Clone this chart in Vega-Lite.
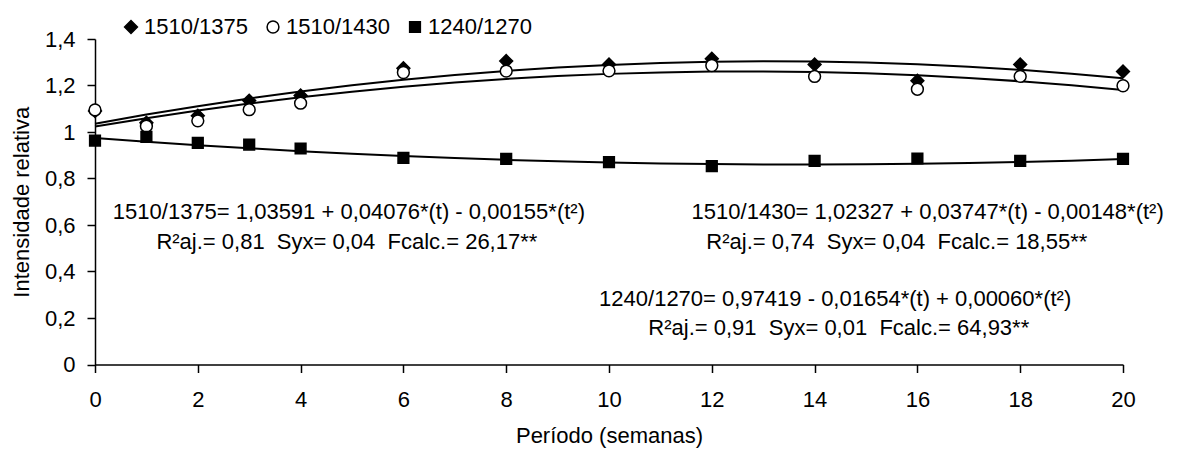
{
  "$schema": "https://vega.github.io/schema/vega-lite/v6.json",
  "width": 1028,
  "height": 325.5,
  "autosize": {"type": "none"},
  "padding": {"left": 95, "top": 39, "right": 54, "bottom": 85.5},
  "background": "white",
  "config": {
    "view": {"stroke": null},
    "font": "Liberation Sans",
    "axis": {
      "domainColor": "black", "tickColor": "black", "domainWidth": 1.5, "tickWidth": 1.5, "tickSize": 8,
      "labelFont": "Liberation Sans", "labelFontSize": 22, "labelColor": "black",
      "titleFont": "Liberation Sans", "titleFontSize": 22, "titleFontWeight": "normal", "titleColor": "black",
      "grid": false, "labelFlush": false, "labelOverlap": false
    },
    "legend": {
      "labelFontSize": 22, "labelFont": "Liberation Sans", "labelColor": "black", "symbolSize": 75,
      "labelOffset": 2, "columnPadding": 14, "symbolStrokeColor": "black", "symbolStrokeWidth": 1.5,
      "padding": 0, "symbolOpacity": 1
    },
    "text": {"font": "Liberation Sans", "fontSize": 22, "color": "black"}
  },
  "datasets": {
    "obs": [
      {"serie": "1510/1375", "t": 0, "v": 1.09},
      {"serie": "1510/1375", "t": 1, "v": 1.04},
      {"serie": "1510/1375", "t": 2, "v": 1.07},
      {"serie": "1510/1375", "t": 3, "v": 1.135},
      {"serie": "1510/1375", "t": 4, "v": 1.157},
      {"serie": "1510/1375", "t": 6, "v": 1.274},
      {"serie": "1510/1375", "t": 8, "v": 1.305},
      {"serie": "1510/1375", "t": 10, "v": 1.29},
      {"serie": "1510/1375", "t": 12, "v": 1.315},
      {"serie": "1510/1375", "t": 14, "v": 1.29},
      {"serie": "1510/1375", "t": 16, "v": 1.22},
      {"serie": "1510/1375", "t": 18, "v": 1.29},
      {"serie": "1510/1375", "t": 20, "v": 1.26},
      {"serie": "1510/1430", "t": 0, "v": 1.095},
      {"serie": "1510/1430", "t": 1, "v": 1.025},
      {"serie": "1510/1430", "t": 2, "v": 1.048},
      {"serie": "1510/1430", "t": 3, "v": 1.096},
      {"serie": "1510/1430", "t": 4, "v": 1.124},
      {"serie": "1510/1430", "t": 6, "v": 1.256},
      {"serie": "1510/1430", "t": 8, "v": 1.262},
      {"serie": "1510/1430", "t": 10, "v": 1.263},
      {"serie": "1510/1430", "t": 12, "v": 1.286},
      {"serie": "1510/1430", "t": 14, "v": 1.239},
      {"serie": "1510/1430", "t": 16, "v": 1.184},
      {"serie": "1510/1430", "t": 18, "v": 1.239},
      {"serie": "1510/1430", "t": 20, "v": 1.199},
      {"serie": "1240/1270", "t": 0, "v": 0.963},
      {"serie": "1240/1270", "t": 1, "v": 0.979},
      {"serie": "1240/1270", "t": 2, "v": 0.953},
      {"serie": "1240/1270", "t": 3, "v": 0.946},
      {"serie": "1240/1270", "t": 4, "v": 0.929},
      {"serie": "1240/1270", "t": 6, "v": 0.889},
      {"serie": "1240/1270", "t": 8, "v": 0.884},
      {"serie": "1240/1270", "t": 10, "v": 0.87},
      {"serie": "1240/1270", "t": 12, "v": 0.853},
      {"serie": "1240/1270", "t": 14, "v": 0.876},
      {"serie": "1240/1270", "t": 16, "v": 0.886},
      {"serie": "1240/1270", "t": 18, "v": 0.876},
      {"serie": "1240/1270", "t": 20, "v": 0.884}
    ],
    "fit": [
      {"serie": "1510/1375", "t": 0, "v": 1.0359},
      {"serie": "1510/1375", "t": 1, "v": 1.0751},
      {"serie": "1510/1375", "t": 2, "v": 1.1112},
      {"serie": "1510/1375", "t": 3, "v": 1.1442},
      {"serie": "1510/1375", "t": 4, "v": 1.1742},
      {"serie": "1510/1375", "t": 5, "v": 1.2010},
      {"serie": "1510/1375", "t": 6, "v": 1.2247},
      {"serie": "1510/1375", "t": 7, "v": 1.2453},
      {"serie": "1510/1375", "t": 8, "v": 1.2628},
      {"serie": "1510/1375", "t": 9, "v": 1.2772},
      {"serie": "1510/1375", "t": 10, "v": 1.2885},
      {"serie": "1510/1375", "t": 11, "v": 1.2967},
      {"serie": "1510/1375", "t": 12, "v": 1.3018},
      {"serie": "1510/1375", "t": 13, "v": 1.3038},
      {"serie": "1510/1375", "t": 14, "v": 1.3028},
      {"serie": "1510/1375", "t": 15, "v": 1.2986},
      {"serie": "1510/1375", "t": 16, "v": 1.2913},
      {"serie": "1510/1375", "t": 17, "v": 1.2809},
      {"serie": "1510/1375", "t": 18, "v": 1.2674},
      {"serie": "1510/1375", "t": 19, "v": 1.2508},
      {"serie": "1510/1375", "t": 20, "v": 1.2311},
      {"serie": "1510/1430", "t": 0, "v": 1.0233},
      {"serie": "1510/1430", "t": 1, "v": 1.0593},
      {"serie": "1510/1430", "t": 2, "v": 1.0923},
      {"serie": "1510/1430", "t": 3, "v": 1.1224},
      {"serie": "1510/1430", "t": 4, "v": 1.1495},
      {"serie": "1510/1430", "t": 5, "v": 1.1736},
      {"serie": "1510/1430", "t": 6, "v": 1.1948},
      {"serie": "1510/1430", "t": 7, "v": 1.2130},
      {"serie": "1510/1430", "t": 8, "v": 1.2283},
      {"serie": "1510/1430", "t": 9, "v": 1.2406},
      {"serie": "1510/1430", "t": 10, "v": 1.2500},
      {"serie": "1510/1430", "t": 11, "v": 1.2564},
      {"serie": "1510/1430", "t": 12, "v": 1.2598},
      {"serie": "1510/1430", "t": 13, "v": 1.2603},
      {"serie": "1510/1430", "t": 14, "v": 1.2578},
      {"serie": "1510/1430", "t": 15, "v": 1.2523},
      {"serie": "1510/1430", "t": 16, "v": 1.2439},
      {"serie": "1510/1430", "t": 17, "v": 1.2325},
      {"serie": "1510/1430", "t": 18, "v": 1.2182},
      {"serie": "1510/1430", "t": 19, "v": 1.2009},
      {"serie": "1510/1430", "t": 20, "v": 1.1807},
      {"serie": "1240/1270", "t": 0, "v": 0.9742},
      {"serie": "1240/1270", "t": 1, "v": 0.9583},
      {"serie": "1240/1270", "t": 2, "v": 0.9435},
      {"serie": "1240/1270", "t": 3, "v": 0.9300},
      {"serie": "1240/1270", "t": 4, "v": 0.9176},
      {"serie": "1240/1270", "t": 5, "v": 0.9065},
      {"serie": "1240/1270", "t": 6, "v": 0.8966},
      {"serie": "1240/1270", "t": 7, "v": 0.8878},
      {"serie": "1240/1270", "t": 8, "v": 0.8803},
      {"serie": "1240/1270", "t": 9, "v": 0.8739},
      {"serie": "1240/1270", "t": 10, "v": 0.8688},
      {"serie": "1240/1270", "t": 11, "v": 0.8649},
      {"serie": "1240/1270", "t": 12, "v": 0.8621},
      {"serie": "1240/1270", "t": 13, "v": 0.8606},
      {"serie": "1240/1270", "t": 14, "v": 0.8602},
      {"serie": "1240/1270", "t": 15, "v": 0.8611},
      {"serie": "1240/1270", "t": 16, "v": 0.8632},
      {"serie": "1240/1270", "t": 17, "v": 0.8664},
      {"serie": "1240/1270", "t": 18, "v": 0.8709},
      {"serie": "1240/1270", "t": 19, "v": 0.8765},
      {"serie": "1240/1270", "t": 20, "v": 0.8834}
    ]
  },
  "layer": [
    {
      "data": {"name": "fit"},
      "mark": {"type": "line", "color": "black", "strokeWidth": 2},
      "encoding": {
        "x": {"field": "t", "type": "quantitative", "scale": {"domain": [0, 20], "nice": false, "zero": false},
          "axis": {"values": [0, 2, 4, 6, 8, 10, 12, 14, 16, 18, 20], "labelPadding": 17, "titlePadding": 15},
          "title": "Período (semanas)"},
        "y": {"field": "v", "type": "quantitative", "scale": {"domain": [0, 1.4], "nice": false},
          "axis": {"values": [0, 0.2, 0.4, 0.6, 0.8, 1, 1.2, 1.4], "labelPadding": 12, "titlePadding": 11,
            "labelExpr": "replace(format(datum.value, '.1~f'), '.', ',')"},
          "title": "Intensidade relativa"},
        "detail": {"field": "serie"}
      }
    },
    {
      "data": {"name": "obs"},
      "mark": {"type": "point", "filled": true, "stroke": "black", "strokeWidth": 1.5, "opacity": 1},
      "encoding": {
        "x": {"field": "t", "type": "quantitative"},
        "y": {"field": "v", "type": "quantitative"},
        "size": {"field": "serie", "type": "nominal",
          "scale": {"domain": ["1510/1375", "1510/1430", "1240/1270"], "range": [165, 115, 110]},
          "legend": {"orient": "none", "legendX": 25, "legendY": -23, "direction": "horizontal", "title": null,
            "encode": {"symbols": {"update": {"stroke": {"value": "black"}, "strokeWidth": {"value": 1.5}, "size": {"value": 75}}}}}},
        "shape": {"field": "serie", "type": "nominal",
          "scale": {"domain": ["1510/1375", "1510/1430", "1240/1270"], "range": ["diamond", "circle", "square"]},
          "legend": {"orient": "none", "legendX": 25, "legendY": -23, "direction": "horizontal", "title": null,
            "encode": {"symbols": {"update": {"stroke": {"value": "black"}, "strokeWidth": {"value": 1.5}, "size": {"value": 75}}}}}},
        "fill": {"field": "serie", "type": "nominal",
          "scale": {"domain": ["1510/1375", "1510/1430", "1240/1270"], "range": ["black", "white", "black"]},
          "legend": {"orient": "none", "legendX": 25, "legendY": -23, "direction": "horizontal", "title": null,
            "encode": {"symbols": {"update": {"stroke": {"value": "black"}, "strokeWidth": {"value": 1.5}, "size": {"value": 75}}}}}}
      }
    },
    {
      "data": {"values": [{"txt": "1510/1375= 1,03591 + 0,04076*(t) - 0,00155*(t²)"}]},
      "mark": {"type": "text", "align": "center", "baseline": "middle"},
      "encoding": {"x": {"datum": 4.94}, "y": {"datum": 0.656}, "text": {"field": "txt"}}
    },
    {
      "data": {"values": [{"txt": "R²aj.= 0,81 \u00a0Syx= 0,04 \u00a0Fcalc.= 26,17**"}]},
      "mark": {"type": "text", "align": "center", "baseline": "middle"},
      "encoding": {"x": {"datum": 4.9}, "y": {"datum": 0.527}, "text": {"field": "txt"}}
    },
    {
      "data": {"values": [{"txt": "1510/1430= 1,02327 + 0,03747*(t) - 0,00148*(t²)"}]},
      "mark": {"type": "text", "align": "center", "baseline": "middle"},
      "encoding": {"x": {"datum": 16.2}, "y": {"datum": 0.656}, "text": {"field": "txt"}}
    },
    {
      "data": {"values": [{"txt": "R²aj.= 0,74 \u00a0Syx= 0,04 \u00a0Fcalc.= 18,55**"}]},
      "mark": {"type": "text", "align": "center", "baseline": "middle"},
      "encoding": {"x": {"datum": 15.6}, "y": {"datum": 0.527}, "text": {"field": "txt"}}
    },
    {
      "data": {"values": [{"txt": "1240/1270= 0,97419 - 0,01654*(t) + 0,00060*(t²)"}]},
      "mark": {"type": "text", "align": "center", "baseline": "middle"},
      "encoding": {"x": {"datum": 14.4}, "y": {"datum": 0.28}, "text": {"field": "txt"}}
    },
    {
      "data": {"values": [{"txt": "R²aj.= 0,91 \u00a0Syx= 0,01 \u00a0Fcalc.= 64,93**"}]},
      "mark": {"type": "text", "align": "center", "baseline": "middle"},
      "encoding": {"x": {"datum": 14.47}, "y": {"datum": 0.155}, "text": {"field": "txt"}}
    }
  ]
}
